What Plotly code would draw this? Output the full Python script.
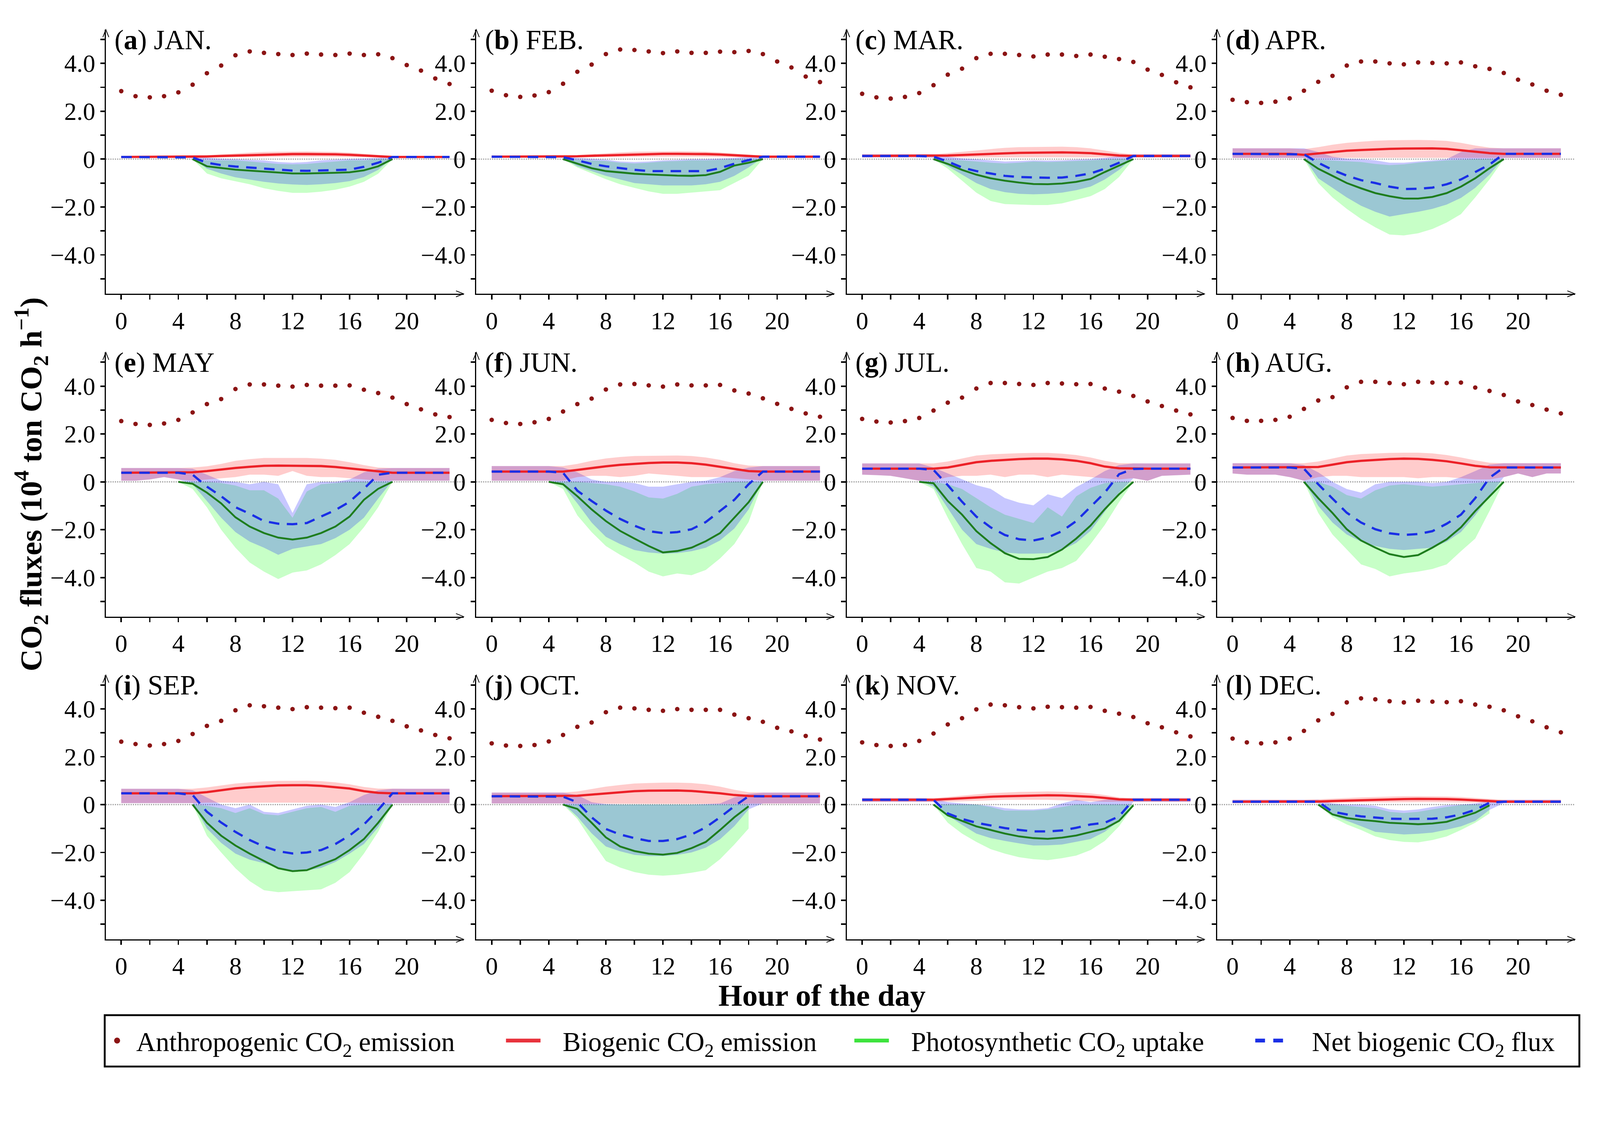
import plotly.graph_objects as go

W, H = 4263, 2888
FONT = "Liberation Serif, Times New Roman, serif"

MONTHS = ["JAN.", "FEB.", "MAR.", "APR.", "MAY", "JUN.", "JUL.", "AUG.", "SEP.", "OCT.", "NOV.", "DEC."]
LETTERS = ["a", "b", "c", "d", "e", "f", "g", "h", "i", "j", "k", "l"]
HOURS = list(range(24))

X_TICKS = [0, 4, 8, 12, 16, 20]
X_LABELS = ["0", "4", "8", "12", "16", "20"]
Y_TICKS = [-4, -2, 0, 2, 4]
Y_LABELS = ["\u22124.0", "\u22122.0", "0", "2.0", "4.0"]

# anthropogenic CO2 emission, hourly (10^4 t CO2 / h)
ANTHRO = [
    [2.84, 2.63, 2.58, 2.63, 2.79, 3.11, 3.59, 3.91, 4.34, 4.50, 4.44, 4.39, 4.35, 4.41, 4.37, 4.35, 4.41, 4.35, 4.38, 4.22, 3.93, 3.70, 3.37, 3.14],
    [2.86, 2.67, 2.60, 2.66, 2.80, 3.15, 3.65, 3.95, 4.39, 4.58, 4.56, 4.50, 4.43, 4.50, 4.44, 4.44, 4.49, 4.47, 4.52, 4.39, 4.08, 3.83, 3.45, 3.22],
    [2.73, 2.58, 2.53, 2.60, 2.76, 3.09, 3.53, 3.78, 4.22, 4.40, 4.40, 4.35, 4.29, 4.37, 4.37, 4.31, 4.37, 4.28, 4.18, 4.06, 3.74, 3.52, 3.21, 3.00],
    [2.48, 2.38, 2.35, 2.40, 2.54, 2.86, 3.23, 3.48, 3.91, 4.08, 4.08, 4.00, 3.96, 4.04, 4.02, 4.00, 4.04, 3.88, 3.77, 3.60, 3.32, 3.12, 2.86, 2.69],
    [2.54, 2.42, 2.38, 2.44, 2.59, 2.90, 3.25, 3.46, 3.88, 4.07, 4.07, 4.02, 3.98, 4.05, 4.02, 4.02, 4.03, 3.85, 3.71, 3.52, 3.25, 3.03, 2.82, 2.71],
    [2.59, 2.46, 2.42, 2.49, 2.63, 2.94, 3.25, 3.48, 3.86, 4.07, 4.09, 4.03, 3.98, 4.07, 4.03, 4.03, 4.05, 3.82, 3.69, 3.49, 3.26, 3.05, 2.86, 2.72],
    [2.63, 2.52, 2.48, 2.54, 2.67, 2.98, 3.31, 3.52, 3.90, 4.13, 4.13, 4.09, 4.05, 4.13, 4.11, 4.08, 4.09, 3.90, 3.77, 3.59, 3.36, 3.17, 2.98, 2.82],
    [2.67, 2.55, 2.55, 2.59, 2.72, 3.05, 3.40, 3.54, 3.95, 4.18, 4.18, 4.13, 4.08, 4.18, 4.15, 4.13, 4.15, 3.94, 3.80, 3.63, 3.36, 3.21, 3.02, 2.86],
    [2.63, 2.53, 2.47, 2.53, 2.66, 2.95, 3.29, 3.50, 3.94, 4.15, 4.11, 4.05, 3.99, 4.07, 4.05, 4.03, 4.05, 3.84, 3.67, 3.50, 3.27, 3.10, 2.91, 2.77],
    [2.56, 2.47, 2.45, 2.49, 2.64, 2.91, 3.25, 3.43, 3.86, 4.05, 4.02, 3.96, 3.92, 3.99, 3.96, 3.96, 3.96, 3.76, 3.61, 3.46, 3.21, 3.06, 2.87, 2.72],
    [2.60, 2.49, 2.45, 2.49, 2.66, 2.97, 3.35, 3.61, 3.98, 4.18, 4.15, 4.07, 4.02, 4.09, 4.07, 4.05, 4.08, 3.92, 3.80, 3.66, 3.40, 3.23, 3.02, 2.85],
    [2.76, 2.60, 2.56, 2.60, 2.76, 3.08, 3.52, 3.79, 4.27, 4.44, 4.40, 4.32, 4.27, 4.34, 4.30, 4.28, 4.32, 4.18, 4.09, 3.94, 3.69, 3.48, 3.23, 3.02],
]

# biogenic CO2 emission: mean, lower and upper edge of the band
BIO = [
    [0.09, 0.09, 0.09, 0.09, 0.09, 0.09, 0.11, 0.13, 0.15, 0.17, 0.19, 0.20, 0.21, 0.21, 0.21, 0.20, 0.18, 0.15, 0.12, 0.09, 0.09, 0.09, 0.09, 0.09],
    [0.10, 0.10, 0.10, 0.10, 0.10, 0.10, 0.12, 0.14, 0.16, 0.18, 0.20, 0.21, 0.22, 0.22, 0.22, 0.21, 0.19, 0.16, 0.12, 0.10, 0.10, 0.10, 0.10, 0.10],
    [0.13, 0.13, 0.13, 0.13, 0.13, 0.13, 0.15, 0.17, 0.20, 0.22, 0.24, 0.26, 0.27, 0.28, 0.28, 0.27, 0.25, 0.20, 0.15, 0.13, 0.13, 0.13, 0.13, 0.13],
    [0.22, 0.22, 0.22, 0.22, 0.22, 0.18, 0.24, 0.30, 0.35, 0.38, 0.41, 0.43, 0.44, 0.45, 0.45, 0.43, 0.38, 0.31, 0.25, 0.22, 0.22, 0.22, 0.22, 0.22],
    [0.38, 0.38, 0.38, 0.38, 0.38, 0.40, 0.45, 0.52, 0.58, 0.63, 0.67, 0.68, 0.68, 0.68, 0.66, 0.62, 0.56, 0.48, 0.43, 0.38, 0.38, 0.38, 0.38, 0.38],
    [0.43, 0.43, 0.43, 0.43, 0.43, 0.43, 0.50, 0.58, 0.65, 0.71, 0.76, 0.79, 0.81, 0.81, 0.78, 0.72, 0.63, 0.53, 0.45, 0.43, 0.43, 0.43, 0.43, 0.43],
    [0.55, 0.55, 0.55, 0.55, 0.55, 0.55, 0.60, 0.72, 0.82, 0.88, 0.92, 0.95, 0.97, 0.97, 0.94, 0.88, 0.78, 0.64, 0.57, 0.55, 0.55, 0.55, 0.55, 0.55],
    [0.60, 0.60, 0.60, 0.60, 0.60, 0.60, 0.62, 0.72, 0.82, 0.88, 0.92, 0.95, 0.97, 0.96, 0.92, 0.86, 0.77, 0.67, 0.61, 0.60, 0.60, 0.60, 0.60, 0.60],
    [0.47, 0.47, 0.47, 0.47, 0.47, 0.47, 0.52, 0.60, 0.68, 0.73, 0.77, 0.80, 0.81, 0.81, 0.78, 0.73, 0.67, 0.56, 0.49, 0.47, 0.47, 0.47, 0.47, 0.47],
    [0.35, 0.35, 0.35, 0.35, 0.35, 0.35, 0.37, 0.42, 0.47, 0.52, 0.56, 0.58, 0.59, 0.59, 0.57, 0.53, 0.47, 0.40, 0.36, 0.35, 0.35, 0.35, 0.35, 0.35],
    [0.20, 0.20, 0.20, 0.20, 0.20, 0.20, 0.23, 0.27, 0.30, 0.33, 0.35, 0.37, 0.38, 0.39, 0.38, 0.36, 0.33, 0.28, 0.22, 0.20, 0.20, 0.20, 0.20, 0.20],
    [0.12, 0.12, 0.12, 0.12, 0.12, 0.12, 0.13, 0.15, 0.17, 0.19, 0.21, 0.22, 0.23, 0.24, 0.24, 0.23, 0.21, 0.18, 0.15, 0.12, 0.12, 0.12, 0.12, 0.12],
]
BIO_LO = [
    [0.05, 0.05, 0.05, 0.05, 0.05, 0.05, 0.06, 0.07, 0.08, 0.09, 0.10, 0.10, 0.10, 0.10, 0.10, 0.10, 0.09, 0.08, 0.06, 0.05, 0.05, 0.05, 0.05, 0.05],
    [0.06, 0.06, 0.06, 0.06, 0.06, 0.06, 0.07, 0.08, 0.09, 0.10, 0.10, 0.10, 0.10, 0.10, 0.10, 0.10, 0.09, 0.08, 0.07, 0.06, 0.06, 0.06, 0.06, 0.06],
    [0.07, 0.07, 0.07, 0.07, 0.07, 0.07, 0.07, 0.07, 0.07, 0.07, 0.06, 0.06, 0.06, 0.06, 0.06, 0.06, 0.06, 0.06, 0.07, 0.07, 0.07, 0.07, 0.07, 0.07],
    [0.05, 0.05, 0.05, 0.05, 0.05, 0.05, 0.05, 0.05, 0.05, 0.05, 0.05, 0.05, 0.05, 0.05, 0.05, 0.05, 0.05, 0.05, 0.05, 0.05, 0.05, 0.05, 0.05, 0.05],
    [0.05, 0.05, 0.10, 0.20, 0.10, 0.05, 0.10, 0.15, 0.20, 0.30, 0.30, 0.25, 0.45, 0.25, 0.20, 0.20, 0.15, 0.10, 0.05, 0.05, 0.05, 0.05, 0.05, 0.05],
    [0.05, 0.05, 0.05, 0.05, 0.05, 0.05, 0.20, 0.25, 0.25, 0.20, 0.25, 0.35, 0.30, 0.25, 0.20, 0.20, 0.20, 0.15, 0.10, 0.05, 0.05, 0.05, 0.05, 0.05],
    [0.30, 0.28, 0.25, 0.15, 0.05, 0.05, 0.20, 0.25, 0.25, 0.30, 0.20, 0.30, 0.30, 0.20, 0.30, 0.25, 0.20, 0.15, 0.10, 0.15, 0.05, 0.25, 0.28, 0.30],
    [0.35, 0.30, 0.30, 0.30, 0.20, 0.05, 0.20, 0.25, 0.25, 0.20, 0.20, 0.20, 0.20, 0.15, 0.20, 0.20, 0.15, 0.10, 0.10, 0.20, 0.35, 0.20, 0.35, 0.35],
    [0.06, 0.06, 0.06, 0.06, 0.06, 0.06, 0.08, 0.08, 0.08, 0.08, 0.08, 0.08, 0.08, 0.08, 0.08, 0.08, 0.08, 0.07, 0.06, 0.06, 0.06, 0.06, 0.06, 0.06],
    [0.05, 0.05, 0.05, 0.05, 0.05, 0.05, 0.04, 0.03, 0.03, 0.03, 0.03, 0.03, 0.03, 0.03, 0.03, 0.03, 0.03, 0.03, 0.04, 0.05, 0.05, 0.05, 0.05, 0.05],
    [0.12, 0.12, 0.12, 0.12, 0.12, 0.12, 0.12, 0.14, 0.16, 0.18, 0.20, 0.20, 0.20, 0.20, 0.18, 0.16, 0.14, 0.12, 0.12, 0.12, 0.12, 0.12, 0.12, 0.12],
    [0.06, 0.06, 0.06, 0.06, 0.06, 0.06, 0.06, 0.07, 0.08, 0.09, 0.10, 0.10, 0.10, 0.10, 0.10, 0.10, 0.09, 0.08, 0.07, 0.06, 0.06, 0.06, 0.06, 0.06],
]
BIO_HI = [
    [0.13, 0.13, 0.13, 0.13, 0.13, 0.13, 0.16, 0.20, 0.24, 0.27, 0.30, 0.31, 0.32, 0.32, 0.31, 0.30, 0.27, 0.22, 0.17, 0.13, 0.13, 0.13, 0.13, 0.13],
    [0.14, 0.14, 0.14, 0.14, 0.14, 0.14, 0.17, 0.21, 0.25, 0.28, 0.31, 0.32, 0.33, 0.33, 0.32, 0.31, 0.28, 0.23, 0.18, 0.14, 0.14, 0.14, 0.14, 0.14],
    [0.20, 0.20, 0.20, 0.20, 0.20, 0.20, 0.25, 0.30, 0.36, 0.42, 0.47, 0.50, 0.51, 0.52, 0.52, 0.50, 0.45, 0.36, 0.26, 0.20, 0.20, 0.20, 0.20, 0.20],
    [0.45, 0.45, 0.45, 0.45, 0.45, 0.42, 0.50, 0.60, 0.68, 0.73, 0.77, 0.79, 0.80, 0.80, 0.79, 0.76, 0.68, 0.57, 0.48, 0.45, 0.45, 0.45, 0.45, 0.45],
    [0.58, 0.58, 0.58, 0.58, 0.58, 0.60, 0.65, 0.75, 0.88, 0.95, 1.00, 1.00, 1.00, 1.00, 0.97, 0.92, 0.82, 0.70, 0.60, 0.58, 0.58, 0.58, 0.58, 0.58],
    [0.66, 0.66, 0.66, 0.66, 0.66, 0.66, 0.75, 0.88, 0.98, 1.04, 1.08, 1.09, 1.10, 1.10, 1.08, 1.02, 0.92, 0.78, 0.68, 0.66, 0.66, 0.66, 0.66, 0.66],
    [0.77, 0.77, 0.77, 0.77, 0.77, 0.77, 0.85, 0.98, 1.10, 1.15, 1.18, 1.20, 1.21, 1.21, 1.18, 1.12, 1.02, 0.88, 0.78, 0.77, 0.77, 0.77, 0.77, 0.77],
    [0.78, 0.78, 0.78, 0.78, 0.78, 0.78, 0.85, 0.98, 1.10, 1.16, 1.19, 1.21, 1.22, 1.22, 1.19, 1.12, 1.02, 0.90, 0.80, 0.78, 0.78, 0.78, 0.78, 0.78],
    [0.66, 0.66, 0.66, 0.66, 0.66, 0.66, 0.72, 0.80, 0.88, 0.93, 0.97, 0.99, 1.00, 1.00, 0.98, 0.93, 0.85, 0.74, 0.67, 0.66, 0.66, 0.66, 0.66, 0.66],
    [0.50, 0.50, 0.50, 0.50, 0.50, 0.50, 0.55, 0.65, 0.75, 0.82, 0.88, 0.90, 0.92, 0.92, 0.90, 0.85, 0.75, 0.62, 0.52, 0.50, 0.50, 0.50, 0.50, 0.50],
    [0.27, 0.27, 0.27, 0.27, 0.27, 0.27, 0.32, 0.38, 0.43, 0.48, 0.51, 0.53, 0.54, 0.55, 0.54, 0.52, 0.47, 0.40, 0.30, 0.27, 0.27, 0.27, 0.27, 0.27],
    [0.20, 0.20, 0.20, 0.20, 0.20, 0.20, 0.22, 0.25, 0.28, 0.30, 0.32, 0.34, 0.35, 0.35, 0.35, 0.34, 0.32, 0.28, 0.24, 0.20, 0.20, 0.20, 0.20, 0.20],
]

# photosynthetic CO2 uptake, daylight hours only, starting at PHOTO_START
PHOTO_START = [5, 5, 5, 5, 4, 4, 4, 5, 5, 5, 5, 6]
PHOTO = [
    [0, -0.30, -0.37, -0.44, -0.48, -0.52, -0.56, -0.60, -0.60, -0.59, -0.57, -0.55, -0.47, -0.30, 0],
    [0, -0.19, -0.38, -0.50, -0.56, -0.61, -0.64, -0.67, -0.69, -0.70, -0.67, -0.53, -0.27, -0.15, 0],
    [0, -0.20, -0.45, -0.65, -0.80, -0.90, -0.98, -1.04, -1.05, -1.02, -0.95, -0.83, -0.54, -0.27, 0],
    [0, -0.40, -0.70, -1.00, -1.22, -1.42, -1.55, -1.65, -1.65, -1.58, -1.42, -1.15, -0.80, -0.38, 0],
    [0, -0.08, -0.45, -0.90, -1.48, -1.87, -2.14, -2.33, -2.41, -2.33, -2.14, -1.87, -1.45, -0.75, -0.29, 0],
    [0, -0.10, -0.60, -1.15, -1.64, -2.05, -2.37, -2.68, -2.95, -2.89, -2.75, -2.48, -2.14, -1.50, -0.85, 0],
    [0, -0.06, -0.80, -1.37, -2.06, -2.56, -2.98, -3.22, -3.23, -3.14, -2.83, -2.37, -1.83, -1.14, -0.52, 0],
    [0, -0.68, -1.30, -1.98, -2.45, -2.75, -3.02, -3.14, -3.06, -2.75, -2.40, -1.90, -1.22, -0.60, 0],
    [0, -0.76, -1.30, -1.71, -2.05, -2.36, -2.66, -2.78, -2.74, -2.51, -2.28, -1.90, -1.44, -0.76, 0],
    [0, -0.18, -0.76, -1.37, -1.75, -1.94, -2.05, -2.09, -2.02, -1.82, -1.56, -1.06, -0.53, -0.07],
    [0, -0.45, -0.68, -0.91, -1.06, -1.21, -1.33, -1.40, -1.43, -1.38, -1.29, -1.14, -1.00, -0.68, -0.03],
    [0, -0.41, -0.56, -0.64, -0.69, -0.76, -0.79, -0.82, -0.79, -0.72, -0.53, -0.34, -0.03],
]
PHOTO_LO = [
    [0, -0.60, -0.80, -0.92, -1.05, -1.22, -1.33, -1.41, -1.41, -1.36, -1.28, -1.15, -0.95, -0.61, 0],
    [0, -0.35, -0.60, -0.84, -1.05, -1.20, -1.35, -1.45, -1.45, -1.40, -1.35, -1.30, -1.00, -0.69, 0],
    [0, -0.40, -0.90, -1.40, -1.75, -1.88, -1.90, -1.92, -1.92, -1.85, -1.70, -1.55, -1.25, -0.75, 0],
    [0, -1.00, -1.60, -2.08, -2.50, -2.85, -3.15, -3.19, -3.10, -2.92, -2.65, -2.30, -1.60, -0.85, 0],
    [0, -0.30, -1.06, -2.00, -2.75, -3.37, -3.75, -4.06, -3.79, -3.70, -3.45, -3.06, -2.60, -1.90, -1.06, 0],
    [0, -0.30, -1.40, -2.10, -2.68, -3.05, -3.37, -3.75, -3.95, -3.83, -3.90, -3.68, -3.20, -2.60, -1.68, 0],
    [0, -0.30, -1.50, -2.60, -3.60, -3.75, -4.20, -4.25, -4.00, -3.75, -3.60, -3.30, -2.60, -1.80, -0.85, 0],
    [0, -1.30, -2.20, -2.83, -3.45, -3.64, -3.95, -3.83, -3.75, -3.64, -3.45, -2.90, -2.37, -1.22, 0],
    [0, -1.30, -2.00, -2.66, -3.20, -3.58, -3.66, -3.62, -3.58, -3.54, -3.27, -2.82, -2.05, -1.14, 0],
    [0, -0.60, -1.50, -2.36, -2.63, -2.82, -2.93, -2.97, -2.93, -2.85, -2.74, -2.28, -1.67, -1.00],
    [0, -0.76, -1.21, -1.56, -1.86, -2.05, -2.20, -2.28, -2.32, -2.24, -2.13, -1.90, -1.52, -0.91, -0.07],
    [0, -0.53, -0.83, -1.06, -1.33, -1.48, -1.56, -1.58, -1.48, -1.33, -1.06, -0.76, -0.37],
]
PHOTO_HI = [
    [0, -0.05, -0.05, -0.05, -0.10, -0.15, -0.20, -0.22, -0.20, -0.15, -0.10, -0.05, -0.05, 0, 0],
    [0, -0.03, -0.05, -0.08, -0.15, -0.18, -0.15, -0.10, -0.08, -0.05, -0.05, -0.03, 0, 0, 0],
    [0, -0.03, -0.05, -0.10, -0.15, -0.18, -0.15, -0.10, -0.12, -0.10, -0.08, -0.05, -0.02, 0, 0],
    [0, -0.03, -0.05, -0.08, -0.12, -0.20, -0.25, -0.22, -0.15, -0.10, -0.05, -0.03, 0, 0, 0],
    [0, 0, 0, -0.05, -0.15, -0.35, -0.35, -0.70, -1.50, -0.40, -0.10, -0.05, 0, 0, 0, 0],
    [0, 0, 0, -0.05, -0.10, -0.20, -0.40, -0.65, -0.70, -0.50, -0.20, -0.10, -0.05, 0, 0, 0],
    [0, 0, -0.10, -0.30, -0.68, -1.06, -1.37, -1.55, -1.72, -1.06, -1.45, -0.60, -0.25, -0.05, 0, 0],
    [0, 0, -0.20, -0.55, -0.70, -0.35, -0.15, -0.10, -0.15, -0.20, -0.15, -0.10, -0.05, 0, 0],
    [0, -0.05, -0.15, -0.35, -0.15, -0.40, -0.45, -0.30, -0.15, -0.10, -0.30, -0.05, 0, 0, 0],
    [0, 0, 0, 0, 0, 0, 0, 0, 0, 0, 0, 0, 0, 0],
    [0, 0, 0, 0, -0.10, -0.25, -0.25, -0.25, -0.20, -0.10, 0, 0, 0, 0, 0],
    [0, 0, -0.05, -0.10, -0.15, -0.30, -0.35, -0.30, -0.20, -0.10, -0.02, 0, 0],
]

# net biogenic CO2 flux
NET = [
    [0.09, 0.09, 0.09, 0.09, 0.09, 0.07, -0.15, -0.25, -0.31, -0.35, -0.40, -0.44, -0.48, -0.49, -0.48, -0.46, -0.44, -0.32, -0.15, 0.09, 0.09, 0.09, 0.09, 0.09],
    [0.10, 0.10, 0.10, 0.10, 0.10, 0.08, -0.05, -0.20, -0.30, -0.38, -0.45, -0.50, -0.50, -0.52, -0.52, -0.50, -0.38, -0.19, -0.04, 0.10, 0.10, 0.10, 0.10, 0.10],
    [0.13, 0.13, 0.13, 0.13, 0.13, 0.10, -0.10, -0.35, -0.50, -0.60, -0.70, -0.75, -0.77, -0.78, -0.77, -0.70, -0.60, -0.40, -0.15, 0.13, 0.13, 0.13, 0.13, 0.13],
    [0.22, 0.22, 0.22, 0.22, 0.22, 0.20, -0.15, -0.45, -0.69, -0.88, -1.00, -1.15, -1.25, -1.24, -1.19, -1.05, -0.85, -0.54, -0.23, 0.22, 0.22, 0.22, 0.22, 0.22],
    [0.38, 0.38, 0.38, 0.38, 0.38, 0.30, -0.20, -0.60, -1.06, -1.33, -1.64, -1.75, -1.77, -1.72, -1.45, -1.18, -0.83, -0.29, 0.30, 0.38, 0.38, 0.38, 0.38, 0.38],
    [0.43, 0.43, 0.43, 0.43, 0.43, 0.38, -0.37, -0.80, -1.20, -1.55, -1.83, -2.06, -2.14, -2.10, -1.98, -1.68, -1.22, -0.75, -0.10, 0.43, 0.43, 0.43, 0.43, 0.43],
    [0.55, 0.55, 0.55, 0.55, 0.55, 0.50, -0.14, -0.83, -1.45, -1.90, -2.22, -2.40, -2.45, -2.33, -2.06, -1.64, -1.06, -0.45, 0.32, 0.54, 0.55, 0.55, 0.55, 0.55],
    [0.60, 0.60, 0.60, 0.60, 0.60, 0.55, -0.10, -0.70, -1.29, -1.70, -1.98, -2.15, -2.22, -2.18, -2.06, -1.75, -1.37, -0.68, 0.17, 0.60, 0.60, 0.60, 0.60, 0.60],
    [0.47, 0.47, 0.47, 0.47, 0.47, 0.40, -0.30, -0.75, -1.14, -1.48, -1.75, -1.95, -2.04, -2.00, -1.90, -1.65, -1.29, -0.83, -0.22, 0.47, 0.47, 0.47, 0.47, 0.47],
    [0.35, 0.35, 0.35, 0.35, 0.35, 0.33, 0.10, -0.53, -1.02, -1.25, -1.40, -1.52, -1.52, -1.44, -1.25, -0.95, -0.53, -0.07, 0.35, 0.35, 0.35, 0.35, 0.35, 0.35],
    [0.20, 0.20, 0.20, 0.20, 0.20, 0.20, -0.37, -0.60, -0.76, -0.87, -0.98, -1.06, -1.12, -1.12, -1.08, -0.97, -0.83, -0.76, -0.49, 0.20, 0.20, 0.20, 0.20, 0.20],
    [0.12, 0.12, 0.12, 0.12, 0.12, 0.12, 0.12, -0.30, -0.41, -0.49, -0.53, -0.59, -0.60, -0.60, -0.59, -0.53, -0.41, -0.22, 0.08, 0.12, 0.12, 0.12, 0.12, 0.12],
]
NET_LO = [
    [0.05, 0.05, 0.05, 0.05, 0.05, 0.04, -0.40, -0.60, -0.76, -0.85, -0.95, -1.02, -1.06, -1.08, -1.05, -1.00, -0.92, -0.75, -0.45, 0.05, 0.05, 0.05, 0.05, 0.05],
    [0.06, 0.06, 0.06, 0.06, 0.06, 0.05, -0.30, -0.50, -0.70, -0.85, -1.00, -1.05, -1.10, -1.10, -1.10, -1.05, -0.95, -0.70, -0.35, 0.06, 0.06, 0.06, 0.06, 0.06],
    [0.07, 0.07, 0.07, 0.07, 0.07, 0.06, -0.30, -0.65, -1.00, -1.25, -1.38, -1.45, -1.47, -1.45, -1.40, -1.30, -1.15, -0.85, -0.45, 0.07, 0.07, 0.07, 0.07, 0.07],
    [0.05, 0.05, 0.05, 0.05, 0.05, 0.05, -0.80, -1.20, -1.60, -1.95, -2.20, -2.40, -2.30, -2.20, -2.08, -1.90, -1.62, -1.20, -0.65, 0.05, 0.05, 0.05, 0.05, 0.05],
    [0.05, 0.05, 0.10, 0.20, 0.10, -0.10, -0.80, -1.50, -2.10, -2.50, -2.75, -3.05, -2.80, -2.70, -2.60, -2.35, -2.00, -1.50, -0.70, 0.05, 0.05, 0.05, 0.05, 0.05],
    [0.05, 0.05, 0.05, 0.05, 0.05, -0.15, -0.90, -1.70, -2.30, -2.60, -2.85, -2.95, -3.00, -2.98, -2.90, -2.75, -2.45, -1.95, -1.15, 0.05, 0.05, 0.05, 0.05, 0.05],
    [0.30, 0.28, 0.25, 0.15, 0.05, -0.20, -1.10, -2.00, -2.60, -2.80, -2.95, -3.00, -3.00, -2.98, -2.85, -2.55, -2.05, -1.25, -0.45, 0.15, 0.05, 0.25, 0.28, 0.30],
    [0.35, 0.30, 0.30, 0.30, 0.20, 0.05, -1.00, -1.70, -2.20, -2.50, -2.68, -2.80, -2.85, -2.80, -2.75, -2.50, -2.10, -1.40, -0.60, 0.20, 0.35, 0.20, 0.35, 0.35],
    [0.06, 0.06, 0.06, 0.06, 0.06, 0.06, -1.00, -1.60, -2.05, -2.30, -2.45, -2.65, -2.80, -2.75, -2.65, -2.40, -2.05, -1.65, -0.95, 0.06, 0.06, 0.06, 0.06, 0.06],
    [0.05, 0.05, 0.05, 0.05, 0.05, 0.05, -0.50, -1.20, -1.75, -1.95, -2.10, -2.15, -2.15, -2.10, -2.00, -1.80, -1.45, -0.90, -0.20, 0.05, 0.05, 0.05, 0.05, 0.05],
    [0.12, 0.12, 0.12, 0.12, 0.12, 0.12, -0.45, -0.85, -1.21, -1.40, -1.52, -1.62, -1.71, -1.70, -1.67, -1.55, -1.44, -1.14, -0.68, 0.12, 0.12, 0.12, 0.12, 0.12],
    [0.06, 0.06, 0.06, 0.06, 0.06, 0.06, 0.06, -0.45, -0.68, -0.90, -1.14, -1.20, -1.25, -1.22, -1.17, -1.05, -0.91, -0.68, -0.22, 0.06, 0.06, 0.06, 0.06, 0.06],
]
NET_HI = [
    [0.13, 0.13, 0.13, 0.13, 0.13, 0.13, 0.06, 0.02, 0.00, -0.02, -0.05, -0.12, -0.15, -0.12, -0.05, -0.02, 0.00, 0.02, 0.05, 0.13, 0.13, 0.13, 0.13, 0.13],
    [0.14, 0.14, 0.14, 0.14, 0.14, 0.14, 0.05, 0.02, -0.02, -0.10, -0.12, -0.10, -0.05, -0.03, 0.00, 0.00, 0.02, 0.05, 0.10, 0.14, 0.14, 0.14, 0.14, 0.14],
    [0.20, 0.20, 0.20, 0.20, 0.20, 0.20, 0.10, 0.03, 0.00, -0.05, -0.10, -0.08, -0.05, -0.06, -0.05, -0.02, 0.00, 0.05, 0.12, 0.20, 0.20, 0.20, 0.20, 0.20],
    [0.45, 0.45, 0.45, 0.45, 0.45, 0.45, 0.30, 0.10, 0.02, 0.00, -0.05, -0.15, -0.15, -0.10, -0.05, 0.00, 0.30, 0.45, 0.45, 0.45, 0.45, 0.45, 0.45, 0.45],
    [0.58, 0.58, 0.58, 0.58, 0.58, 0.55, 0.30, 0.05, 0.00, -0.10, 0.00, -0.10, -1.30, -0.10, 0.00, 0.00, 0.10, 0.40, 0.55, 0.58, 0.58, 0.58, 0.58, 0.58],
    [0.66, 0.66, 0.66, 0.66, 0.66, 0.60, 0.40, 0.10, 0.00, 0.00, -0.05, -0.20, -0.20, -0.10, 0.00, 0.05, 0.20, 0.45, 0.60, 0.66, 0.66, 0.66, 0.66, 0.66],
    [0.77, 0.77, 0.77, 0.77, 0.77, 0.60, 0.35, 0.10, -0.14, -0.29, -0.68, -0.87, -0.98, -0.52, -0.68, -0.22, 0.10, 0.45, 0.70, 0.77, 0.77, 0.77, 0.77, 0.77],
    [0.78, 0.78, 0.78, 0.78, 0.78, 0.70, 0.40, 0.00, -0.30, -0.45, -0.10, 0.00, 0.00, 0.00, -0.05, 0.00, 0.20, 0.45, 0.72, 0.78, 0.78, 0.78, 0.78, 0.78],
    [0.66, 0.66, 0.66, 0.66, 0.66, 0.60, 0.30, 0.00, -0.15, 0.00, -0.30, -0.35, -0.20, -0.05, 0.00, -0.10, 0.10, 0.40, 0.60, 0.66, 0.66, 0.66, 0.66, 0.66],
    [0.50, 0.50, 0.50, 0.50, 0.50, 0.50, 0.40, 0.10, 0.02, 0.00, 0.00, 0.00, 0.00, 0.00, 0.00, 0.02, 0.05, 0.30, 0.45, 0.50, 0.50, 0.50, 0.50, 0.50],
    [0.27, 0.27, 0.27, 0.27, 0.27, 0.25, 0.10, 0.05, 0.00, -0.05, -0.15, -0.20, -0.20, -0.15, 0.05, 0.20, 0.10, 0.20, 0.25, 0.27, 0.27, 0.27, 0.27, 0.27],
    [0.20, 0.20, 0.20, 0.20, 0.20, 0.20, 0.20, 0.05, 0.00, 0.00, -0.05, -0.20, -0.25, -0.20, -0.10, -0.02, 0.00, 0.05, 0.15, 0.20, 0.20, 0.20, 0.20, 0.20],
]

# colours
C_ANTHRO = "#8b1414"
C_BIO = "#ec2128"
C_PHOTO = "#1e7d1e"
C_NET = "#1a2fe6"
F_BIO = "rgba(255,0,0,0.2)"
F_PHOTO = "rgba(0,255,0,0.22)"
F_NET = "rgba(0,0,255,0.22)"

NBSP = "\u00a0"


def px_x(v):
    return v / W


def px_y(v):
    return 1 - v / H


fig = go.Figure()

for i in range(12):
    row, col = divmod(i, 4)
    xa = "x" if i == 0 else f"x{i + 1}"
    ya = "y" if i == 0 else f"y{i + 1}"
    common = dict(xaxis=xa, yaxis=ya, hoverinfo="skip", showlegend=False)

    s = PHOTO_START[i]
    ph = list(range(s, s + len(PHOTO[i])))

    # bands
    fig.add_trace(go.Scatter(x=ph + ph[::-1], y=PHOTO_HI[i] + PHOTO_LO[i][::-1], fill="toself",
                             fillcolor=F_PHOTO, line=dict(width=0), mode="lines", **common))
    fig.add_trace(go.Scatter(x=HOURS + HOURS[::-1], y=NET_HI[i] + NET_LO[i][::-1], fill="toself",
                             fillcolor=F_NET, line=dict(width=0), mode="lines", **common))
    fig.add_trace(go.Scatter(x=HOURS + HOURS[::-1], y=BIO_HI[i] + BIO_LO[i][::-1], fill="toself",
                             fillcolor=F_BIO, line=dict(width=0), mode="lines", **common))

    # lines
    fig.add_trace(go.Scatter(x=ph, y=PHOTO[i], mode="lines", line=dict(color=C_PHOTO, width=5), **common))
    fig.add_trace(go.Scatter(x=HOURS, y=BIO[i], mode="lines", line=dict(color=C_BIO, width=6), **common))
    fig.add_trace(go.Scatter(x=HOURS, y=NET[i], mode="lines",
                             line=dict(color=C_NET, width=6, dash="28px,20px"), **common))
    fig.add_trace(go.Scatter(x=HOURS, y=ANTHRO[i], mode="markers",
                             marker=dict(color=C_ANTHRO, size=12), **common))

    x0 = 282 + 987 * col
    x1 = 1235 + 987 * col
    y0 = 79 + 860 * row
    y1 = 783 + 860 * row

    tick_style = dict(ticks="outside", ticklen=12, tickwidth=4, tickcolor="black")
    axis_common = dict(showline=True, linecolor="black", linewidth=3, showgrid=False, zeroline=False,
                       tickfont=dict(family=FONT, size=66, color="black"), **tick_style)
    fig.layout[xa.replace("x", "xaxis")] = dict(
        domain=[px_x(x0), px_x(x1)], range=[-1.08, 23.98], anchor=ya,
        tickmode="array", tickvals=X_TICKS, ticktext=X_LABELS,
        minor=dict(tickmode="linear", tick0=0, dtick=2, **tick_style), **axis_common)
    fig.layout[ya.replace("y", "yaxis")] = dict(
        domain=[px_y(y1), px_y(y0)], range=[-5.63, 5.41], anchor=xa,
        tickmode="array", tickvals=Y_TICKS, ticktext=Y_LABELS,
        minor=dict(tickmode="linear", tick0=0, dtick=1, **tick_style), **axis_common)

    # dotted zero line
    fig.add_shape(type="line", xref=f"{xa} domain", yref=ya, x0=0, x1=1, y0=0, y1=0,
                  line=dict(color="#9a9a9a", width=3, dash="dot"), layer="below")

    # small arrow heads at the axis ends
    dx, dy = 8 / (x1 - x0), 20 / (y1 - y0)
    fig.add_shape(type="path", xref=f"{xa} domain", yref=f"{ya} domain",
                  path=f"M{-dx},{1 - dy} L0,1 L{dx},{1 - dy}", line=dict(color="black", width=2))
    dx, dy = 20 / (x1 - x0), 8 / (y1 - y0)
    fig.add_shape(type="path", xref=f"{xa} domain", yref=f"{ya} domain",
                  path=f"M{1 - dx},{dy} L1,0 L{1 - dx},{-dy}", line=dict(color="black", width=2))

    # panel title
    fig.add_annotation(xref="paper", yref="paper", x=px_x(303 + 987 * col), y=px_y(106 + 860 * row),
                       xanchor="left", yanchor="middle", showarrow=False,
                       text=f"(<b>{LETTERS[i]}</b>) {MONTHS[i]}",
                       font=dict(family=FONT, size=74, color="black"))

# legend entries
fig.add_trace(go.Scatter(x=[None], y=[None], mode="markers", marker=dict(color=C_ANTHRO, size=18),
                         name="Anthropogenic CO<sub>2</sub> emission" + NBSP * 7))
fig.add_trace(go.Scatter(x=[None], y=[None], mode="lines", line=dict(color="#e8323c", width=10),
                         name=NBSP * 3 + "Biogenic CO<sub>2</sub> emission" + NBSP * 5))
fig.add_trace(go.Scatter(x=[None], y=[None], mode="lines", line=dict(color="#3de33d", width=10),
                         name=NBSP * 3 + "Photosynthetic CO<sub>2</sub> uptake" + NBSP * 7))
fig.add_trace(go.Scatter(x=[None], y=[None], mode="lines", line=dict(color=C_NET, width=10, dash="26px,22px"),
                         name=NBSP * 3 + "Net biogenic CO<sub>2</sub> flux"))

# legend frame
fig.add_shape(type="rect", xref="paper", yref="paper", x0=px_x(279), x1=px_x(4208),
              y0=px_y(2842), y1=px_y(2705), line=dict(color="black", width=5), fillcolor="rgba(0,0,0,0)")

# shared axis titles
fig.add_annotation(xref="paper", yref="paper", x=px_x(82), y=px_y(1291), textangle=-90,
                   showarrow=False, xanchor="center", yanchor="middle",
                   text="<b>CO<sub>2</sub> fluxes (10<sup>4</sup> ton CO<sub>2</sub> h<sup>\u22121</sup>)</b>",
                   font=dict(family=FONT, size=82, color="black"))
fig.add_annotation(xref="paper", yref="paper", x=px_x(2190), y=px_y(2652),
                   showarrow=False, xanchor="center", yanchor="middle",
                   text="<b>Hour of the day</b>", font=dict(family=FONT, size=82, color="black"))

fig.update_layout(
    width=W, height=H,
    margin=dict(l=0, r=0, t=0, b=0),
    paper_bgcolor="white", plot_bgcolor="white",
    font=dict(family=FONT, color="black"),
    showlegend=True,
    legend=dict(orientation="h", x=px_x(261), y=px_y(2773), xanchor="left", yanchor="middle",
                bgcolor="rgba(0,0,0,0)", borderwidth=0, itemwidth=92,
                font=dict(family=FONT, size=72, color="black")),
)

# fit the fixed-size figure into whatever viewport the page is shown in
fit_script = """
var gd = document.getElementById('{plot_id}');
document.body.style.margin = '0';
document.body.style.overflow = 'hidden';
var s = Math.min(window.innerWidth / %d, window.innerHeight / %d);
gd.style.transformOrigin = '0 0';
gd.style.transform = 'scale(' + s + ')';
""" % (W, H)

fig.write_html("out.html", post_script=fit_script, config={"displayModeBar": False})
